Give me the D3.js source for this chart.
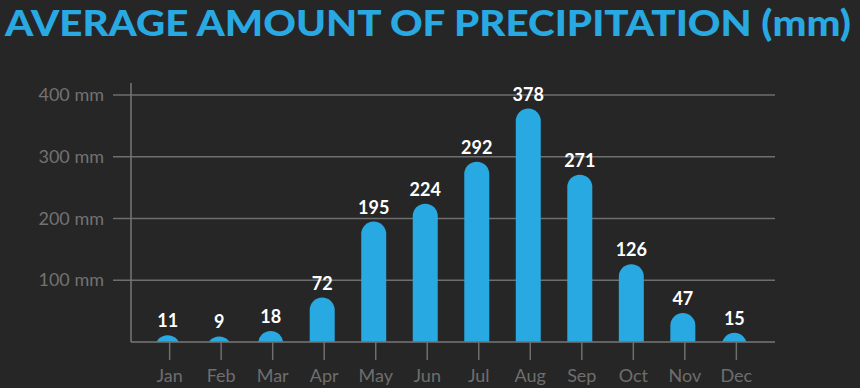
<!DOCTYPE html>
<html>
<head>
<meta charset="utf-8">
<script src="https://cdn.jsdelivr.net/npm/d3@7"></script>
<style>
  body { margin: 0; background: #262626; }
  svg { display: block; }
</style>
</head>
<body>
<script>
var months = ["Jan","Feb","Mar","Apr","May","Jun","Jul","Aug","Sep","Oct","Nov","Dec"];
var precip = [11, 9, 18, 72, 195, 224, 292, 378, 271, 126, 47, 15];
var yTicks = [100, 200, 300, 400];
var title = "AVERAGE AMOUNT OF PRECIPITATION (mm)";

var W = 860, H = 388;
var blue = "#29a9e1";

var svg = d3.select("body").append("svg")
    .attr("width", W)
    .attr("height", H);

svg.append("rect").attr("width", W).attr("height", H).attr("fill", "#262626");

svg.append("text")
    .attr("x", 5).attr("y", 36)
    .attr("textLength", 846)
    .attr("lengthAdjust", "spacingAndGlyphs")
    .style("font-family", "Lato, sans-serif")
    .style("font-weight", "900")
    .style("font-size", "36px")
    .attr("fill", blue)
    .text(title);

var x = d3.scalePoint().domain(months).range([131, 775]).padding(0.75);
var y = d3.scaleLinear().domain([0, 400]).range([342, 95]);

// grid lines (with short ticks to the left of the axis)
svg.selectAll(".grid").data(yTicks).enter().append("line")
    .attr("x1", 113).attr("x2", 775)
    .attr("y1", function(d){ return y(d); })
    .attr("y2", function(d){ return y(d); })
    .attr("stroke", "#6e6e6e").attr("stroke-width", 1.5);

svg.selectAll(".ylab").data(yTicks).enter().append("text")
    .attr("x", 104)
    .attr("y", function(d){ return y(d) + 6; })
    .attr("text-anchor", "end")
    .style("font-family", "Lato, sans-serif")
    .style("font-size", "18px")
    .attr("fill", "#727272")
    .text(function(d){ return d + " mm"; });

// axes
svg.append("line").attr("x1", 131).attr("x2", 131).attr("y1", 83).attr("y2", 342)
    .attr("stroke", "#777").attr("stroke-width", 1.5);
svg.append("line").attr("x1", 131).attr("x2", 775).attr("y1", 342).attr("y2", 342)
    .attr("stroke", "#777").attr("stroke-width", 1.5);

svg.selectAll(".xtick").data(months).enter().append("line")
    .attr("x1", function(d){ return x(d); })
    .attr("x2", function(d){ return x(d); })
    .attr("y1", 342).attr("y2", 360)
    .attr("stroke", "#6e6e6e").attr("stroke-width", 1.5);

svg.selectAll(".xlab").data(months).enter().append("text")
    .attr("x", function(d){ return x(d); })
    .attr("y", 382)
    .attr("text-anchor", "middle")
    .style("font-family", "Lato, sans-serif")
    .style("font-size", "18px")
    .attr("fill", "#6e6e6e")
    .text(function(d){ return d; });

// bars: rounded top, clipped at the baseline
svg.append("clipPath").attr("id", "plotclip")
  .append("rect").attr("x", 0).attr("y", 0).attr("width", W).attr("height", y(0) - 0.5);

var bw = 25, r = bw / 2;
svg.append("g").attr("clip-path", "url(#plotclip)")
  .selectAll("rect").data(precip).enter().append("rect")
    .attr("x", function(d, i){ return x(months[i]) - r - 2; })
    .attr("y", function(d){ return y(d); })
    .attr("width", bw)
    .attr("height", function(d){ return y(0) - y(d) + bw; })
    .attr("rx", r).attr("ry", r)
    .attr("fill", blue);

svg.selectAll(".val").data(precip).enter().append("text")
    .attr("x", function(d, i){ return x(months[i]) - 2; })
    .attr("y", function(d){ return y(d) - 8; })
    .attr("text-anchor", "middle")
    .style("font-family", "Lato, sans-serif")
    .style("font-weight", "bold")
    .style("font-size", "18px")
    .attr("fill", "#fff")
    .text(function(d){ return d; });
</script>
</body>
</html>
